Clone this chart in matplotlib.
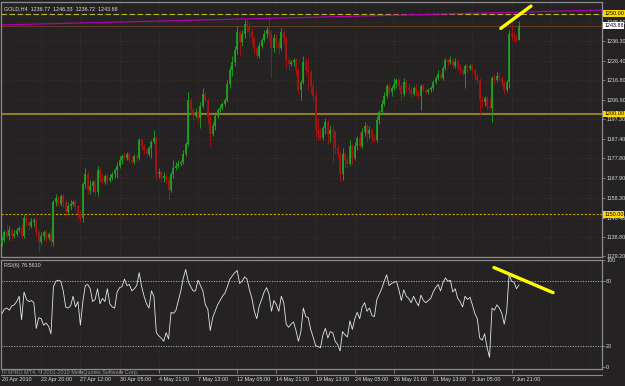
import numpy as np
import matplotlib
matplotlib.use('Agg')
import matplotlib.pyplot as plt
import matplotlib.transforms as mtransforms

plt.rcParams['font.family'] = ['Liberation Sans', 'DejaVu Sans']

# GOLD H4 bars (open = previous close)
first_open = 1135.0
closes = [
    1137, 1141, 1139, 1142, 1139, 1140, 1142, 1143, 1139, 1148,
    1146, 1144, 1146, 1147, 1141, 1136, 1139, 1141, 1138, 1140,
    1136, 1156, 1158, 1155, 1159, 1156, 1151, 1154, 1155, 1156,
    1154, 1150, 1148, 1165, 1170, 1162, 1164, 1166, 1161, 1172,
    1168, 1166, 1169, 1167, 1168, 1170, 1172, 1174, 1177, 1179,
    1178, 1180, 1177, 1176, 1179, 1178, 1187, 1184, 1182, 1180,
    1183, 1186, 1188, 1170, 1171, 1168, 1169, 1167, 1162, 1170,
    1173, 1174, 1175, 1176, 1180, 1185, 1207, 1202, 1199, 1201,
    1198, 1204, 1210, 1207, 1198, 1190, 1194, 1199, 1202, 1203,
    1205, 1207, 1215, 1222, 1226, 1232, 1241, 1236, 1240, 1245,
    1244, 1241, 1238, 1233, 1229, 1234, 1237, 1240, 1242, 1240,
    1233, 1238, 1236, 1233, 1241, 1238, 1227, 1225, 1226, 1227,
    1222, 1212, 1216, 1226, 1222, 1221, 1214, 1209, 1192, 1190,
    1188, 1193, 1196, 1190, 1192, 1191, 1183, 1180, 1170, 1180,
    1177, 1175, 1184, 1178, 1184, 1188, 1184, 1191, 1194, 1190,
    1192, 1188, 1187, 1197, 1201, 1205, 1209, 1214, 1211, 1213,
    1215, 1217, 1214, 1210, 1216, 1213, 1212, 1210, 1213, 1211,
    1209, 1214, 1212, 1211, 1212, 1213, 1216, 1218, 1220, 1218,
    1223, 1227, 1226, 1227, 1224, 1226, 1223, 1222, 1220, 1224,
    1223, 1224, 1222, 1219, 1217, 1207, 1206, 1208, 1204, 1203,
    1218, 1217, 1219, 1218, 1216, 1212, 1216, 1240, 1239, 1238,
    1236.77, 1243.88]
highs = [
    1139, 1142, 1145, 1144, 1143, 1142, 1143, 1144, 1145, 1150,
    1149, 1147, 1148, 1148, 1148, 1142, 1141, 1142, 1142, 1141,
    1143, 1157, 1160, 1159, 1160, 1160, 1157, 1156, 1157, 1157,
    1157, 1155, 1152, 1166, 1173, 1171, 1167, 1167, 1167, 1174,
    1173, 1170, 1170, 1170, 1170, 1171, 1173, 1176, 1179, 1180,
    1181, 1181, 1181, 1179, 1180, 1180, 1188, 1188, 1185, 1183,
    1184, 1187, 1192, 1189, 1173, 1172, 1171, 1170, 1169, 1171,
    1177, 1176, 1177, 1177, 1182, 1186, 1211, 1208, 1203, 1203,
    1202, 1206, 1213, 1211, 1208, 1200, 1196, 1201, 1203, 1205,
    1206, 1208, 1217, 1224, 1229, 1234, 1244, 1242, 1242, 1247,
    1248, 1246, 1243, 1239, 1234, 1236, 1238, 1242, 1244, 1249,
    1242, 1240, 1240, 1238, 1243, 1242, 1239, 1228, 1227, 1228,
    1228, 1223, 1217, 1229, 1228, 1228, 1222, 1216, 1212, 1198,
    1193, 1194, 1198, 1197, 1194, 1194, 1192, 1185, 1181, 1183,
    1181, 1179, 1187, 1185, 1186, 1189, 1191, 1193, 1196, 1195,
    1194, 1193, 1190, 1199, 1202, 1207, 1211, 1215, 1215, 1214,
    1218, 1218, 1218, 1215, 1218, 1217, 1215, 1214, 1214, 1215,
    1212, 1215, 1215, 1213, 1213, 1214, 1217, 1219, 1222, 1221,
    1224, 1228, 1228, 1229, 1228, 1228, 1227, 1225, 1223, 1225,
    1225, 1225, 1225, 1223, 1220, 1218, 1209, 1209, 1209, 1208,
    1219, 1220, 1221, 1221, 1219, 1217, 1217, 1242, 1245, 1241,
    1240, 1246.33]
lows = [
    1134, 1136, 1138, 1137, 1137, 1138, 1139, 1141, 1138, 1138,
    1144, 1142, 1143, 1144, 1139, 1131, 1135, 1137, 1136, 1137,
    1134, 1134, 1154, 1154, 1154, 1153, 1149, 1150, 1152, 1154,
    1152, 1147, 1146, 1146, 1163, 1160, 1160, 1161, 1159, 1159,
    1166, 1165, 1165, 1165, 1166, 1167, 1168, 1168, 1173, 1175,
    1177, 1177, 1176, 1175, 1175, 1176, 1177, 1182, 1180, 1179,
    1179, 1178, 1185, 1167, 1168, 1166, 1166, 1165, 1157, 1161,
    1168, 1172, 1173, 1174, 1175, 1179, 1184, 1200, 1197, 1198,
    1196, 1193, 1203, 1206, 1195, 1184, 1189, 1192, 1198, 1201,
    1202, 1204, 1206, 1213, 1219, 1224, 1230, 1229, 1234, 1238,
    1241, 1238, 1235, 1230, 1228, 1228, 1233, 1236, 1238, 1237,
    1218, 1231, 1233, 1230, 1232, 1235, 1223, 1222, 1224, 1224,
    1219, 1210, 1207, 1215, 1220, 1212, 1210, 1207, 1188, 1187,
    1187, 1187, 1190, 1185, 1186, 1176, 1180, 1178, 1166, 1167,
    1173, 1173, 1174, 1175, 1177, 1182, 1183, 1183, 1189, 1186,
    1188, 1186, 1186, 1186, 1195, 1200, 1204, 1208, 1210, 1209,
    1212, 1213, 1212, 1207, 1209, 1211, 1210, 1208, 1209, 1209,
    1208, 1202, 1211, 1210, 1210, 1211, 1212, 1215, 1217, 1217,
    1217, 1222, 1224, 1225, 1223, 1223, 1222, 1220, 1219, 1213,
    1221, 1222, 1221, 1217, 1215, 1200, 1203, 1204, 1202, 1202,
    1196, 1215, 1216, 1217, 1214, 1210, 1211, 1213, 1237, 1236,
    1236, 1236.72]
rsi = [
    50, 54, 55, 53, 57, 58, 61, 66, 44, 70,
    63, 61, 62, 60, 36, 46, 45, 39, 41, 38,
    31, 75, 80, 81, 80, 71, 56, 55, 57, 66,
    56, 61, 39, 61, 76, 77, 73, 61, 63, 73,
    59, 64, 61, 73, 59, 56, 55, 70, 74, 75,
    82, 76, 77, 71, 73, 76, 88, 75, 66, 59,
    55, 71, 66, 32, 29, 27, 24, 32, 26, 51,
    50, 53, 62, 71, 83, 91, 80, 75, 71, 71,
    81, 76, 71, 58, 54, 34, 46, 52, 58, 62,
    66, 69, 75, 82, 85, 88, 90, 78, 80, 84,
    82, 72, 64, 52, 45, 57, 63, 70, 74, 68,
    52, 62, 58, 52, 66, 60, 40, 37, 40, 42,
    34, 24, 33, 55, 47, 46, 35, 28, 20, 19,
    18, 30, 36, 27, 33, 32, 24, 21, 15, 33,
    30, 28, 43, 35, 45, 51, 45, 56, 60, 52,
    55, 48, 47, 63, 68, 73, 80, 86, 76, 78,
    79, 80, 72, 62, 72, 66, 64, 60, 66, 61,
    57, 67, 62, 60, 62, 64, 70, 74, 77, 71,
    79, 83, 80, 81, 70, 73, 64, 61, 56, 66,
    63, 65, 58, 50, 45, 27, 25, 31, 18, 9,
    55, 53, 58, 55, 50, 40, 52, 87, 80, 79,
    73, 76.56]

date_labels = ['20 Apr 2010', '22 Apr 20:00', '27 Apr 12:00', '30 Apr 05:00',
               '4 May 21:00', '7 May 13:00', '12 May 05:00', '14 May 21:00',
               '19 May 13:00', '24 May 05:00', '26 May 21:00', '31 May 13:00',
               '3 Jun 05:00', '7 Jun 21:00']
price_ticks = [1129.20, 1138.80, 1148.40, 1158.30, 1167.90, 1177.80, 1187.40,
               1197.30, 1206.90, 1216.80, 1226.40, 1236.30, 1245.90]
rsi_ticks = [0, 20, 80, 100]

# objects drawn on the chart
hline_levels = [1250.00, 1200.00, 1150.00]
bid = 1243.88
trend_x = [-0.2, 244.9]
trend_y = [1244.3, 1251.7]
mark_price_x = [203.6, 215.9]
mark_price_y = [1242.6, 1253.7]
mark_rsi_x = [200.8, 224.9]
mark_rsi_y = [92.8, 69.4]

bg = '#242222'
frame = '#8c8c8c'
grid_c = '#4f3326'
txt = '#dcdcdc'
fs = 3.9

W, H = 625, 386
fig = plt.figure(figsize=(W / 100, H / 100), dpi=100, facecolor=bg)


def rect(x0, y0, x1, y1):
    return [x0 / W, 1 - y1 / H, (x1 - x0) / W, (y1 - y0) / H]


axp = fig.add_axes(rect(1.5, 2, 602, 257))
axr = fig.add_axes(rect(1.5, 259.5, 602, 369), sharex=axp)

n = len(closes)
x = np.arange(n)
c = np.array(closes, dtype=float)
o = np.concatenate([[first_open], c[:-1]])
h = np.maximum(np.array(highs, dtype=float), np.maximum(o, c))
l = np.minimum(np.array(lows, dtype=float), np.minimum(o, c))
up = c >= o
colors = np.where(up, '#1fa81f', '#b01212')

for ax in (axp, axr):
    ax.set_facecolor(bg)
    for s in ax.spines.values():
        s.set_color(frame)
        s.set_linewidth(0.9)
    ax.set_xlim(-0.2, 244.9)

vx = [16 * k for k in range(len(date_labels))] + [16 * 14, 16 * 15]

# price pane
axp.set_ylim(1128.74, 1255.73)
for gx in vx[1:]:
    axp.axvline(gx, color=grid_c, lw=0.6, ls=(0, (1, 2.5)), zorder=0)
    axr.axvline(gx, color=grid_c, lw=0.6, ls=(0, (1, 2.5)), zorder=0)
for gy in price_ticks:
    axp.axhline(gy, color=grid_c, lw=0.6, ls=(0, (1, 2.5)), zorder=0)

axp.vlines(x, l, h, colors=colors, lw=0.6, zorder=3)
axp.vlines(x, o, c, colors=colors, lw=1.2, zorder=3)

axp.axhline(hline_levels[0], color='#b8b832', lw=0.8, dashes=(5, 2.2), zorder=2)
axp.axhline(hline_levels[1], color='#8e7c2a', lw=1.5, zorder=2)
axp.axhline(hline_levels[2], color='#c8a000', lw=0.8, dashes=(2, 1.5), zorder=2)
axp.axhline(bid, color='#5e3c22', lw=0.8, zorder=1)
axp.plot(trend_x, trend_y, color='#b000b0', lw=0.9, zorder=2)
axp.plot(mark_price_x, mark_price_y, color='#ffff00', lw=2.4,
         solid_capstyle='round', zorder=5)

axp.yaxis.tick_right()
axp.set_yticks(price_ticks)
axp.set_yticklabels(['%.2f' % v for v in price_ticks])
axp.tick_params(axis='y', colors=frame, labelcolor=txt, labelsize=fs,
                length=2, width=0.6, pad=1)
axp.tick_params(axis='x', bottom=False, labelbottom=False)

bt = mtransforms.blended_transform_factory(axp.transAxes, axp.transData)
for lv, fc in [(hline_levels[0], '#ffd800'), (hline_levels[1], '#ffd800'),
               (hline_levels[2], '#ffd800'), (bid, '#ffffff')]:
    axp.text(1.0035, lv, '%.2f' % lv, transform=bt, fontsize=fs, color='black',
             va='center', ha='left', clip_on=False, zorder=10,
             bbox=dict(boxstyle='square,pad=0.15', fc=fc, ec='none'))

axp.text(0.004, 0.985, 'GOLD,H4  1236.77  1246.33  1236.72  1243.88',
         transform=axp.transAxes, fontsize=fs, color=txt, va='top', ha='left')

# RSI pane
axr.set_ylim(-1.9, 100.3)
axr.plot(x, rsi, color='#e6e6e6', lw=0.6, zorder=3)
for lv in (80, 20):
    axr.axhline(lv, color='#a8a8a8', lw=0.7, dashes=(1.2, 1.4), zorder=2)
axr.plot(mark_rsi_x, mark_rsi_y, color='#ffff00', lw=2.4,
         solid_capstyle='round', zorder=5, clip_on=False)
axr.yaxis.tick_right()
axr.set_yticks(rsi_ticks)
axr.set_yticklabels([str(v) for v in rsi_ticks])
axr.tick_params(axis='y', colors=frame, labelcolor=txt, labelsize=fs,
                length=2, width=0.6, pad=1)
axr.set_xticks(vx[:len(date_labels)])
axr.set_xticklabels(date_labels, ha='left')
axr.tick_params(axis='x', colors=frame, labelcolor=txt, labelsize=fs,
                length=3, width=0.6, pad=3)
axr.text(0.004, 0.97, 'RSI(6) 76.5610', transform=axr.transAxes, fontsize=fs,
         color=txt, va='top', ha='left')
axr.text(0.004, -0.005, 'FXPRO MT4, \u00a9 2001-2010 MetaQuotes Software Corp.',
         transform=axr.transAxes, fontsize=fs, color='#9a9a9a', va='top',
         ha='left')

fig.add_artist(plt.Line2D([1.5 / W, 602 / W], [1 - 375 / H, 1 - 375 / H],
                          color=frame, lw=0.8))

fig.savefig('out.png', dpi=100, facecolor=bg)
